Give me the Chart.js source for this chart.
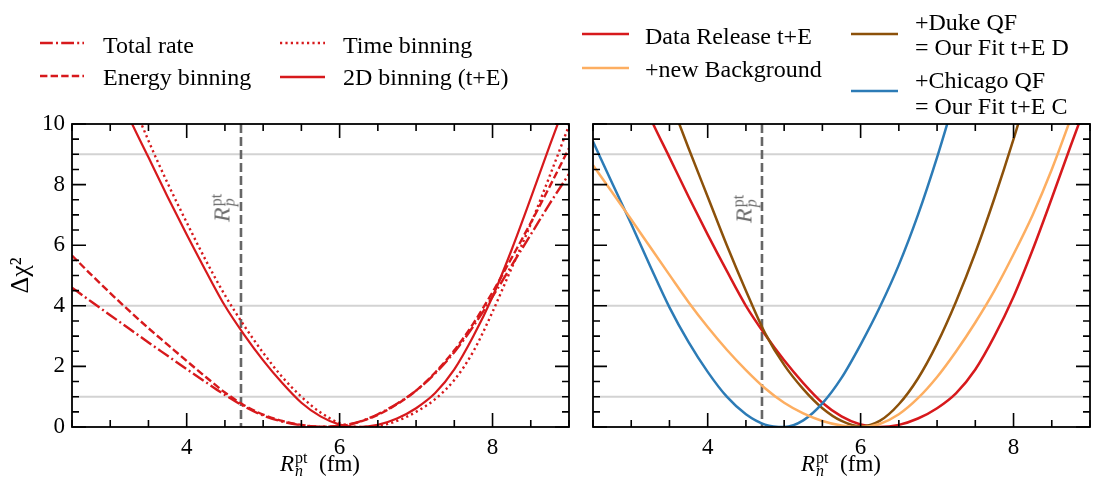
<!DOCTYPE html>
<html lang="en">
<head>
<meta charset="UTF-8">
<title>Delta chi2 x Rn</title>
<script src="https://cdn.jsdelivr.net/npm/chart.js"></script>
<style>
    body { margin: 0; background: #fff; }
    #wrap { position: relative; width: 1120px; height: 481px; font-family: "Liberation Serif", serif; color: #000; overflow: hidden; }
    .painel { position: absolute; top: 0; height: 481px; }
    #esq { left: 0; width: 580px; }
    #dir { left: 580px; width: 540px; }
    .txt { position: absolute; font-size: 24px; line-height: 24px; white-space: nowrap; }
    .xt { position: absolute; top: 451px; transform: translateX(-50%); font-size: 23px; line-height: 26px; white-space: nowrap; }
    .rp { position: absolute; transform: translate(-50%, -50%) rotate(-90deg); color: #6b6b6b; font-size: 24px; line-height: 26px; white-space: nowrap; }
    .ss { display: inline-flex; flex-direction: column; font-size: 16px; line-height: 13px; vertical-align: 8px; margin-left: 1px; }
</style>
</head>
<body>
<div id="wrap">
    <div class="painel" id="esq"><canvas id="graficoEsq"></canvas></div>
    <div class="painel" id="dir"><canvas id="graficoDir"></canvas></div>

    <!-- legenda (amostras de linha) -->
    <svg width="1120" height="120" style="position:absolute;left:0;top:0">
        <line x1="40" y1="43" x2="84" y2="43" stroke="#d7191c" stroke-width="2.4" stroke-dasharray="12.8 3.2 2 3.2"/>
        <line x1="40" y1="76" x2="84" y2="76" stroke="#d7191c" stroke-width="2.4" stroke-dasharray="7.4 3.2"/>
        <line x1="280" y1="43" x2="325" y2="43" stroke="#d7191c" stroke-width="2.4" stroke-dasharray="2.2 3.2"/>
        <line x1="280" y1="77" x2="325" y2="77" stroke="#d7191c" stroke-width="2.4"/>
        <line x1="582" y1="34" x2="629" y2="34" stroke="#d7191c" stroke-width="2.5"/>
        <line x1="582" y1="68" x2="629" y2="68" stroke="#fdae61" stroke-width="2.5"/>
        <line x1="851" y1="34" x2="898" y2="34" stroke="#8c510a" stroke-width="2.5"/>
        <line x1="851" y1="91" x2="898" y2="91" stroke="#2c7bb6" stroke-width="2.5"/>
    </svg>
    <div class="txt" style="left:103px;top:33px">Total rate</div>
    <div class="txt" style="left:103px;top:65px">Energy binning</div>
    <div class="txt" style="left:343px;top:33px">Time binning</div>
    <div class="txt" style="left:343px;top:65px">2D binning (t+E)</div>
    <div class="txt" style="left:645px;top:24px">Data Release t+E</div>
    <div class="txt" style="left:645px;top:57px">+new Background</div>
    <div class="txt" style="left:915px;top:10px">+Duke QF</div>
    <div class="txt" style="left:915px;top:35px">= Our Fit t+E D</div>
    <div class="txt" style="left:915px;top:68px">+Chicago QF</div>
    <div class="txt" style="left:915px;top:94px">= Our Fit t+E C</div>

    <!-- titulos do eixo x -->
    <div class="xt" style="left:320px"><i>R</i><span class="ss"><span>pt</span><i>n</i></span>&nbsp; (fm)</div>
    <div class="xt" style="left:841px"><i>R</i><span class="ss"><span>pt</span><i>n</i></span>&nbsp; (fm)</div>

    <!-- rotulo da linha vertical -->
    <div class="rp" style="left:222px;top:208px"><i>R</i><span class="ss"><span>pt</span><i>p</i></span></div>
    <div class="rp" style="left:744px;top:209px"><i>R</i><span class="ss"><span>pt</span><i>p</i></span></div>
</div>

<script>
    // eixo x: raio de neutrons (fm)
    const rn = [2.5, 2.75, 3.0, 3.25, 3.5, 3.75, 4.0, 4.25, 4.5, 4.75, 5.0, 5.25, 5.5,
                5.75, 6.0, 6.25, 6.5, 6.75, 7.0, 7.25, 7.5, 7.75, 8.0, 8.25, 8.5, 8.75, 9.0];

    // painel esquerdo
    const totalRate     = [4.6, 4.14, 3.69, 3.24, 2.79, 2.35, 1.91, 1.48, 1.06, 0.68, 0.38, 0.18, 0.06,
                           0.01, 0.04, 0.17, 0.42, 0.77, 1.2, 1.77, 2.47, 3.33, 4.3, 5.33, 6.35, 7.38, 8.35];
    const energyBinning = [5.66, 5.03, 4.42, 3.83, 3.26, 2.72, 2.18, 1.65, 1.14, 0.72, 0.41, 0.2, 0.07,
                           0.01, 0.03, 0.16, 0.4, 0.75, 1.2, 1.8, 2.53, 3.42, 4.45, 5.58, 6.74, 7.95, 9.2];
    const timeBinning   = [null, null, 12.8, 11.0, 9.45, 8.05, 6.75, 5.5, 4.35, 3.35, 2.45, 1.65, 1.0,
                           0.48, 0.13, 0.0, 0.03, 0.2, 0.5, 0.92, 1.55, 2.5, 3.8, 5.25, 6.7, 8.3, 9.95];
    const binning2D     = [null, null, 11.7, 10.2, 8.9, 7.6, 6.35, 5.15, 4.0, 3.05, 2.2, 1.45, 0.8,
                           0.35, 0.08, 0.0, 0.07, 0.28, 0.62, 1.12, 1.9, 3.0, 4.3, 5.85, 7.55, 9.3, 11.0];

    // painel direito (Data Release t+E = binning2D)
    const newBackground = [8.64, 7.75, 6.85, 5.93, 5.02, 4.12, 3.3, 2.55, 1.88, 1.28, 0.8, 0.45, 0.2,
                           0.05, 0.0, 0.1, 0.42, 0.95, 1.65, 2.5, 3.45, 4.5, 5.7, 7.0, 8.5, 10.2, 12.0];
    const dukeQF        = [null, null, null, 12.5, 10.85, 9.2, 7.6, 6.0, 4.5, 3.1, 2.05, 1.25, 0.62,
                           0.2, 0.02, 0.2, 0.75, 1.6, 2.75, 4.15, 5.75, 7.55, 9.5, 11.6, null, null, null];
    const chicagoQF     = [9.42, 8.05, 6.7, 5.3, 3.95, 2.8, 1.82, 1.0, 0.42, 0.08, 0.0, 0.22, 0.78,
                           1.62, 2.72, 3.95, 5.35, 7.0, 8.9, 11.0, null, null, null, null, null, null, null];

    const niveis = [1, 4, 9];   // linhas cinza horizontais
    const rpRef = 4.71;         // R_p^pt
    const passoMenor = 0.5;     // ticks menores

    const pontos = serie => rn.map((v, i) => ({ x: v, y: serie[i] }));

    Chart.defaults.font.family = "'Liberation Serif', serif";
    Chart.defaults.font.size = 23;
    Chart.defaults.color = '#000';

    const moldura = {
        id: 'moldura',
        beforeDatasetsDraw(chart) {
            const { ctx, chartArea: a, scales: { x, y } } = chart;
            ctx.save();
            ctx.strokeStyle = '#d3d3d3';
            ctx.lineWidth = 2;
            niveis.forEach(v => {
                const py = y.getPixelForValue(v);
                ctx.beginPath(); ctx.moveTo(a.left, py); ctx.lineTo(a.right, py); ctx.stroke();
            });
            const px = x.getPixelForValue(rpRef);
            ctx.strokeStyle = '#666';
            ctx.lineWidth = 2.6;
            ctx.setLineDash([9, 4]);
            ctx.beginPath(); ctx.moveTo(px, a.top); ctx.lineTo(px, a.bottom); ctx.stroke();
            ctx.restore();
        },
        afterDatasetsDraw(chart) {
            const { ctx, chartArea: a, scales: { x, y } } = chart;
            ctx.save();
            ctx.strokeStyle = '#000';
            ctx.lineWidth = 1.6;
            // ticks para dentro nos quatro lados
            const nx = Math.round((x.max - x.min) / passoMenor);
            for (let i = 0; i <= nx; i++) {
                const v = x.min + i * passoMenor;
                const len = (v % 2 === 0) ? 14 : 7;
                const px = x.getPixelForValue(v);
                ctx.beginPath();
                ctx.moveTo(px, a.bottom); ctx.lineTo(px, a.bottom - len);
                ctx.moveTo(px, a.top); ctx.lineTo(px, a.top + len);
                ctx.stroke();
            }
            const ny = Math.round((y.max - y.min) / passoMenor);
            for (let i = 0; i <= ny; i++) {
                const v = y.min + i * passoMenor;
                const len = (v % 2 === 0) ? 14 : 7;
                const py = y.getPixelForValue(v);
                ctx.beginPath();
                ctx.moveTo(a.left, py); ctx.lineTo(a.left + len, py);
                ctx.moveTo(a.right, py); ctx.lineTo(a.right - len, py);
                ctx.stroke();
            }
            ctx.lineWidth = 1.8;
            ctx.strokeRect(a.left, a.top, a.right - a.left, a.bottom - a.top);
            ctx.restore();
        }
    };

    function eixoX() {
        return {
            type: 'linear', min: 2.5, max: 9,
            grid: { display: false, drawTicks: false },
            border: { display: false },
            ticks: { stepSize: 2, includeBounds: false, padding: 7 },
            afterFit: s => { s.height = 54; }
        };
    }

    function linha(dados, cor, larg, tracejado) {
        return {
            data: pontos(dados),
            borderColor: cor,
            borderWidth: larg,
            borderDash: tracejado || [],
            pointRadius: 0,
            fill: false,
            cubicInterpolationMode: 'monotone'
        };
    }

    const vermelho = '#d7191c';

    const configEsq = {
        type: 'line',
        data: {
            datasets: [
                linha(totalRate, vermelho, 2.4, [12.8, 3.2, 2, 3.2]),
                linha(energyBinning, vermelho, 2.4, [7.4, 3.2]),
                linha(timeBinning, vermelho, 2.4, [2.2, 3.2]),
                linha(binning2D, vermelho, 2.2)
            ]
        },
        options: {
            responsive: true, maintainAspectRatio: false, animation: false,
            layout: { padding: { top: 124, right: 11, left: 0, bottom: 0 } },
            plugins: { legend: { display: false }, tooltip: { enabled: false } },
            scales: {
                x: eixoX(),
                y: {
                    min: 0, max: 10,
                    grid: { display: false, drawTicks: false },
                    border: { display: false },
                    ticks: { stepSize: 2, padding: 7 },
                    title: { display: true, text: 'Δχ²', font: { size: 26 }, padding: { top: 6, bottom: 0 } },
                    afterFit: s => { s.width = 72; }
                }
            }
        },
        plugins: [moldura]
    };

    const configDir = {
        type: 'line',
        data: {
            datasets: [
                linha(newBackground, '#fdae61', 2.5),
                linha(chicagoQF, '#2c7bb6', 2.5),
                linha(dukeQF, '#8c510a', 2.5),
                linha(binning2D, vermelho, 2.5)
            ]
        },
        options: {
            responsive: true, maintainAspectRatio: false, animation: false,
            layout: { padding: { top: 124, right: 30, left: 13, bottom: 0 } },
            plugins: { legend: { display: false }, tooltip: { enabled: false } },
            scales: {
                x: eixoX(),
                y: { min: 0, max: 10, display: false }
            }
        },
        plugins: [moldura]
    };

    const graficoEsq = new Chart(document.getElementById('graficoEsq'), configEsq);
    const graficoDir = new Chart(document.getElementById('graficoDir'), configDir);
</script>
</body>
</html>
